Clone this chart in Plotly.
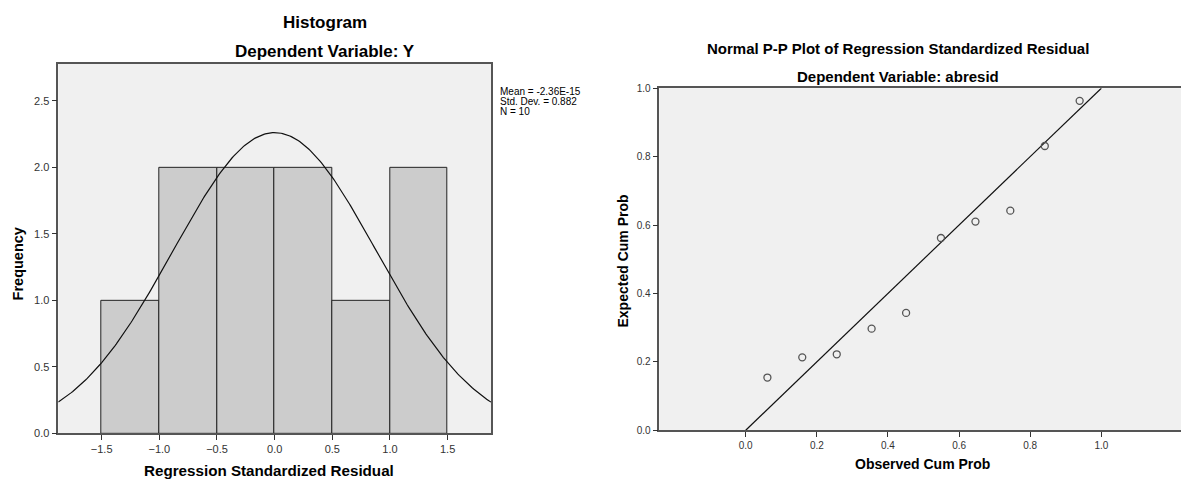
import numpy as np
import plotly.graph_objects as go

# ---------------- data ----------------
bin_centers = [-1.25, -0.75, -0.25, 0.25, 0.75, 1.25]
bin_counts = [1, 2, 2, 2, 1, 2]
bin_width = 0.5
res_mean = -2.36e-15
res_sd = 0.882
res_n = 10
hist_xticks = [-1.5, -1.0, -0.5, 0.0, 0.5, 1.0, 1.5]
hist_yticks = [0.0, 0.5, 1.0, 1.5, 2.0, 2.5]
stats_lines = ["Mean = -2.36E-15", "Std. Dev. = 0.882", "N = 10"]

observed_cum_prob = [0.061, 0.159, 0.256, 0.354, 0.451, 0.549, 0.646, 0.744, 0.841, 0.939]
expected_cum_prob = [0.154, 0.213, 0.222, 0.297, 0.343, 0.562, 0.610, 0.642, 0.831, 0.963]
ref_line_x = [0.0, 1.0]
ref_line_y = [0.0, 1.0]
pp_ticks = [0.0, 0.2, 0.4, 0.6, 0.8, 1.0]

# ---------------- figure ----------------
W, H = 1181, 484
FONT = "Liberation Sans, Arial, sans-serif"
AXIS_COL = "#555555"


def px_x(p):
    return p / W


def px_y(p):
    return 1 - p / H


fig = go.Figure()

# histogram bars
fig.add_trace(go.Bar(
    x=bin_centers, y=bin_counts, width=[bin_width] * len(bin_centers),
    marker=dict(color="#CCCCCC", line=dict(color="#222222", width=1)),
    xaxis="x", yaxis="y", showlegend=False, hoverinfo="skip"))

# normal curve from the stated mean / sd / N
xr = (-1.876, 1.876)
curve_x = np.linspace(xr[0], xr[1], 300)
curve_y = res_n * bin_width / (res_sd * np.sqrt(2 * np.pi)) * np.exp(
    -0.5 * ((curve_x - res_mean) / res_sd) ** 2)
fig.add_trace(go.Scatter(
    x=curve_x, y=curve_y, mode="lines", line=dict(color="#111111", width=1.2),
    xaxis="x", yaxis="y", showlegend=False, hoverinfo="skip"))

# P-P plot
fig.add_trace(go.Scatter(
    x=ref_line_x, y=ref_line_y, mode="lines", line=dict(color="#111111", width=1.2),
    xaxis="x2", yaxis="y2", showlegend=False, hoverinfo="skip"))
fig.add_trace(go.Scatter(
    x=observed_cum_prob, y=expected_cum_prob, mode="markers",
    marker=dict(symbol="circle-open", size=7, color="#555555", line=dict(width=1.3)),
    xaxis="x2", yaxis="y2", showlegend=False, hoverinfo="skip"))


def axis_common(tick_size):
    return dict(showgrid=False, zeroline=False, showline=True, linecolor=AXIS_COL,
                linewidth=1.5, ticks="outside", ticklen=5, tickcolor="#333333",
                tickwidth=1, tickfont=dict(family=FONT, size=tick_size, color="#333333"),
                tickformat=".1f")


fig.update_layout(
    width=W, height=H,
    margin=dict(l=0, r=0, t=0, b=0),
    paper_bgcolor="white",
    plot_bgcolor="#F0F0F0",
    bargap=0,
    xaxis=dict(domain=[px_x(58.3), px_x(491)], range=list(xr), tickvals=hist_xticks,
               mirror=True, anchor="y", **axis_common(11)),
    yaxis=dict(domain=[px_y(438.3), px_y(59.3)], range=[0, 2.779], tickvals=hist_yticks,
               mirror=True, anchor="x", **axis_common(11)),
    xaxis2=dict(domain=[px_x(659.3), 1.0], range=[-0.243, 1.224], tickvals=pp_ticks,
                mirror=True, anchor="y2", **axis_common(10)),
    yaxis2=dict(domain=[px_y(435), px_y(84.3)], range=[0, 1.0], tickvals=pp_ticks,
                mirror=False, anchor="x2", **axis_common(10)),
)


def ann(text, x, y, size=13, bold=True, angle=0, xanchor="center", yanchor="middle"):
    fig.add_annotation(
        text=f"<b>{text}</b>" if bold else text,
        x=px_x(x), y=px_y(y), xref="paper", yref="paper",
        showarrow=False, textangle=angle, xanchor=xanchor, yanchor=yanchor,
        borderpad=0,
        font=dict(family=FONT, size=size, color="#000000"))


# titles
ann("Histogram", 325, 17, size=17)
ann("Dependent Variable: Y", 325, 47, size=17)
ann("Normal P-P Plot of Regression Standardized Residual", 898, 44, size=15)
ann("Dependent Variable: abresid", 898, 72, size=15)

# axis titles
ann("Frequency", 18, 265, size=14.5, angle=-90)
ann("Regression Standardized Residual", 269, 476.5, size=15.2)
ann("Expected Cum Prob", 623, 262, size=14, angle=-90)
ann("Observed Cum Prob", 922, 470, size=14)

# statistics box
for i, line in enumerate(stats_lines):
    ann(line, 498.5, 88 + 10 * i, size=10, bold=False, xanchor="left")

fig.write_html("out.html", config={"displayModeBar": False},
               post_script="document.body.style.margin='0';")
